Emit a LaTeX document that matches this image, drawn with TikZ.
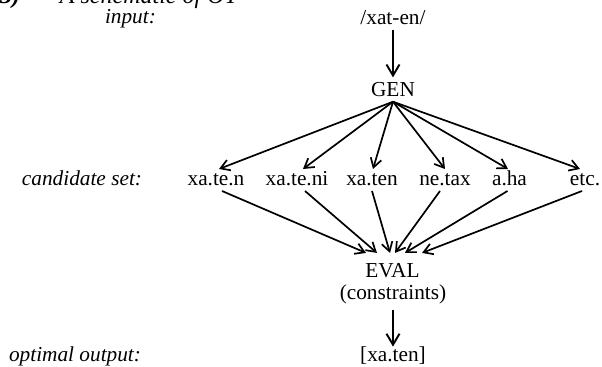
\documentclass[tikz,border=0pt]{standalone}
\usepackage{fontspec}
\setmainfont{Liberation Serif}
\usetikzlibrary{arrows.meta}
\begin{document}
\begin{tikzpicture}[x=0.5pt,y=-0.5pt,
  txt/.style={inner sep=0pt,outer sep=2.5pt,font=\fontsize{10.65}{13}\selectfont},
  lbl/.style={txt,font=\fontsize{10.65}{13}\selectfont\itshape},
  cand/.style={txt,anchor=base,text height=6pt,text depth=0pt},
  arr/.style={line width=0.85pt,-{Straight Barb[length=4.5pt,width=5.5pt,line width=0.85pt]}},
  arrbig/.style={line width=0.95pt,-{Straight Barb[length=5.5pt,width=6.5pt,line width=0.95pt]}}]
\useasboundingbox (0,0) rectangle (602,367);
\clip (0,0) rectangle (602,367);
% title (cut off at the top edge)
\node[txt,anchor=base east,font=\fontsize{12}{14}\selectfont\bfseries\itshape] (num) at (25,4) {(3)};
\node[txt,anchor=base west,font=\fontsize{12}{14}\selectfont\itshape] (title) at (55,4) {A schematic of OT};
% labels
\node[lbl,anchor=base west] (linp) at (100,24) {input:};
\node[lbl,anchor=base east] (lcand) at (147,186) {candidate set:};
\node[lbl,anchor=base east] (lout) at (146,362) {optimal output:};
% main column
\node[txt,anchor=base] (inp) at (393,25) {/xat-en/};
\node[txt,anchor=base] (gen) at (393,96.5) {GEN};
\node[cand] (c1) at (216,186) {xa.te.n};
\node[cand] (c2) at (297,186) {xa.te.ni};
\node[cand] (c3) at (372,186) {xa.ten};
\node[cand] (c4) at (445,186) {ne.tax};
\node[cand] (c5) at (509.5,186) {a.ha};
\node[cand] (c6) at (585,186) {etc.};
\node[txt,anchor=base] (eval) at (392.5,278) {EVAL};
\node[txt,anchor=base] (cons) at (393,300) {(constraints)};
\node[txt,anchor=base] (out) at (393,362) {[xa.ten]};
% connectors
\draw[arrbig] (inp.south) -- (gen.north);
\foreach \c/\dx in {c1/3,c2/6,c3/1,c4/0,c5/-1.5,c6/-5}
  \draw[arr] (gen.south) -- ([xshift=\dx*0.5pt]\c.north);
\foreach \c/\dx/\ex in {c1/6/-26.5,c2/8/-15.5,c3/0/-2.5,c4/-5/2.5,c5/-2/12.5,c6/-3/29.5}
  \draw[arr] ([xshift=\dx*0.5pt]\c.south) -- ([xshift=\ex*0.5pt,yshift=3pt]eval.north);
\draw[arrbig] (cons.south) -- ([yshift=-2.2pt]out.north);
\end{tikzpicture}
\end{document}
